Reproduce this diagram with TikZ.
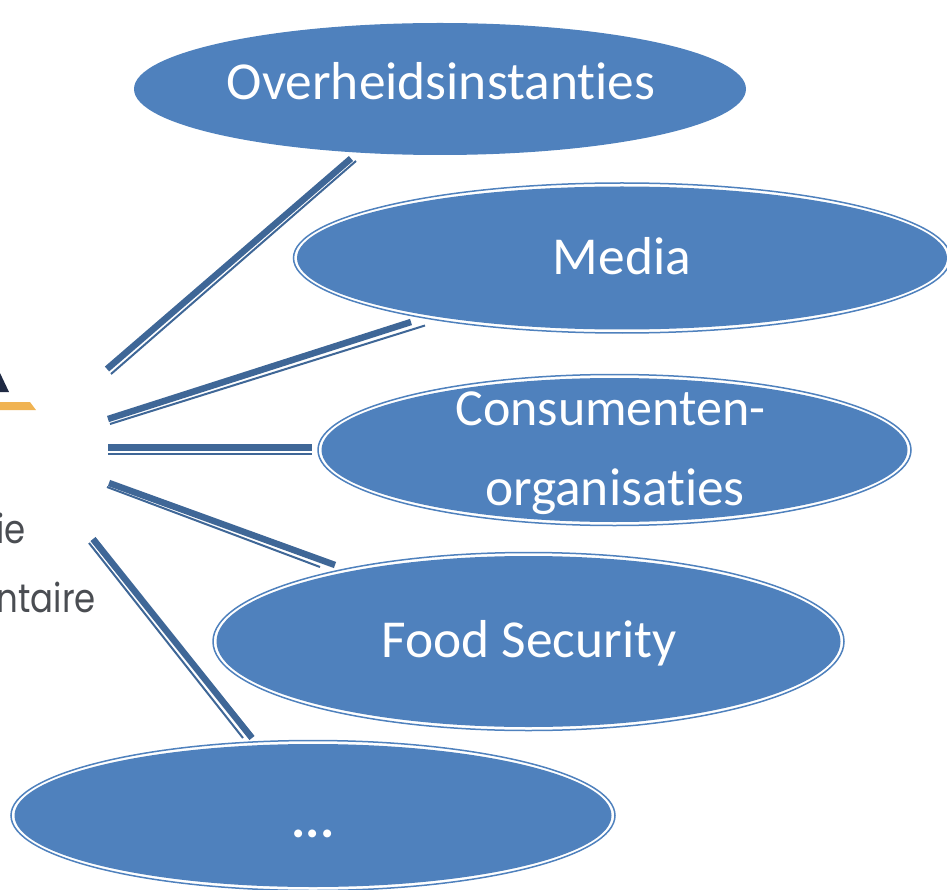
\documentclass[tikz,border=0pt]{standalone}
\usetikzlibrary{shapes.geometric}
\usepackage{fontspec}
\setmainfont[Ligatures=NoCommon]{Carlito}
\newfontfamily\logofont{Poppins}
\definecolor{fillblue}{HTML}{4F81BD}
\definecolor{lineblue}{HTML}{3F6797}
\definecolor{logogray}{HTML}{4A4D52}
\definecolor{logonavy}{HTML}{1F2A44}
\definecolor{logogold}{HTML}{F0B352}
\tikzset{
  bigtext/.style={text=white, inner sep=0pt, font=\fontsize{53.4}{64}\selectfont},
  oval/.style={ellipse, fill=fillblue, inner sep=0pt},
  ring/.style={ellipse, draw=fillblue, line width=1.5pt, fill=white, inner sep=0pt},
  thickline/.style={draw=lineblue, line width=6.5pt},
  thinline/.style={draw=lineblue, line width=2pt},
  logotext/.style={text=logogray, inner sep=0pt, transform shape, xscale=.85, font=\logofont\fontsize{40}{48}\selectfont}
}
\begin{document}
\begin{tikzpicture}[x=1pt,y=-1pt]
\useasboundingbox (0,0) rectangle (947,890);
% logo fragment
\fill[logonavy] (0,373) -- (9,392) -- (0,392) -- cycle;
\fill[logogold] (0,402) -- (30,402) -- (36,410) -- (0,410) -- cycle;
\begin{scope}
\clip (0,500) rectangle (95,625);
\node[logotext, anchor=base east] (logoA) at (26,543) {ie};
\node[logotext, anchor=base east] (logoB) at (96,612) {ntaire};
\end{scope}
% connector ends
\coordinate (a1) at (107,369);
\coordinate (a2) at (111,374);
\coordinate (b1) at (108,419);
\coordinate (b2) at (110,424);
\coordinate (c1) at (108,447.7);
\coordinate (c2) at (108,453.7);
\coordinate (d1) at (109,483);
\coordinate (d2) at (107,487);
\coordinate (e1) at (93,539);
\coordinate (e2) at (89,543);
\coordinate (A1) at (351,158.5);
\coordinate (A2) at (356,161);
\coordinate (B1) at (411,322);
\coordinate (B2) at (425,325.5);
\coordinate (C1) at (312,447.7);
\coordinate (C2) at (312,453.7);
\coordinate (D1) at (335,565);
\coordinate (D2) at (320,567);
\coordinate (E1) at (252,738);
\coordinate (E2) at (243,738);
\draw[thickline] (a1) -- (A1);
\draw[thinline] (a2) -- (A2);
\draw[thickline] (b1) -- (B1);
\draw[thinline] (b2) -- (B2);
\draw[thickline] (c1) -- (C1);
\draw[thinline] (c2) -- (C2);
\draw[thickline] (d1) -- (D1);
\draw[thinline] (d2) -- (D2);
\draw[thickline] (e1) -- (E1);
\draw[thinline] (e2) -- (E2);
% ovals
\node[oval, minimum width=612pt, minimum height=132pt] (n1) at (440,89) {};
\node[bigtext] (t1) at (441,81) {Overheidsinstanties};
\node[ring, minimum width=657pt, minimum height=150pt] (r2) at (622,258) {};
\node[oval, minimum width=650pt, minimum height=143pt] (n2) at (622,258) {};
\node[bigtext] (t2) at (622,256) {Media};
\node[ring, minimum width=593pt, minimum height=151pt] (r3) at (614.5,450) {};
\node[oval, minimum width=586pt, minimum height=144pt] (n3) at (614.5,450) {};
\node[bigtext, font=\fontsize{52}{64}\selectfont] (t3a) at (610.5,409) {Consumenten-};
\node[bigtext] (t3b) at (615,492) {organisaties};
\node[ring, minimum width=631pt, minimum height=178pt] (r4) at (528.5,641.5) {};
\node[oval, minimum width=624pt, minimum height=171pt] (n4) at (528.5,641.5) {};
\node[bigtext] (t4) at (529,643) {Food Security};
\node[ring, minimum width=604pt, minimum height=150pt] (r5) at (313,815.5) {};
\node[oval, minimum width=597pt, minimum height=143pt] (n5) at (313,815.5) {};
\node[bigtext, font=\bfseries\fontsize{53.4}{64}\selectfont] (t5) at (313,834) {...};
\end{tikzpicture}
\end{document}
